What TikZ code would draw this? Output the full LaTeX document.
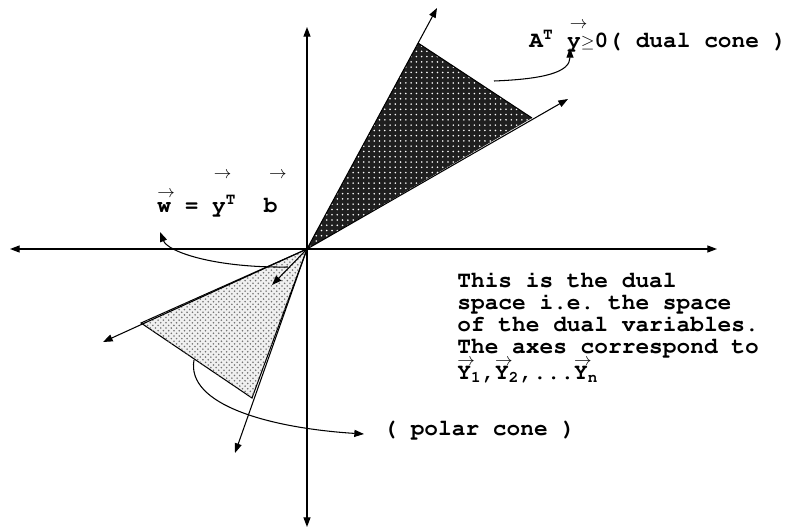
\documentclass[tikz,border=0pt]{standalone}
\usepackage[T1]{fontenc}
\usetikzlibrary{arrows.meta}
\usetikzlibrary{patterns}

\newcommand{\varrow}[3]{\leavevmode\rlap{\hspace{#2}\raisebox{#1}[0pt][0pt]{\fontsize{10}{10}\selectfont$\rightarrow$}}#3}
\newcommand{\geqmono}{\makebox[7.8pt]{\fontsize{10}{10}\selectfont$\geq$}}

\begin{document}
\begin{tikzpicture}[x=0.02cm,y=-0.02cm,
  axis/.style={line width=0.7pt,-{Triangle[length=5.5pt,width=4pt]}},
  pointer/.style={line width=0.6pt,-{Triangle[length=5.5pt,width=4pt]}},
  note/.style={inner sep=0pt,anchor=base west,font=\fontfamily{pcr}\bfseries\fontsize{13}{12.6}\selectfont\frenchspacing}]
  \useasboundingbox (0,0) rectangle (785,531);
  \coordinate (o) at (307,249);
  \coordinate (dualtip) at (570,48);
  \coordinate (polartip) at (364,434);
  \coordinate (wtip) at (160,232);

  \fill[black!88] (o) -- (418,43) -- (532,118) -- cycle;
  \fill[pattern=dots,pattern color=white] (o) -- (418,43) -- (532,118) -- cycle;
  \draw[line width=0.6pt] (418,43) -- (532,118);
  \draw[line width=0.6pt,fill=black!6,postaction={pattern=crosshatch dots,pattern color=black!55}] (o) -- (141,323) -- (252,398) -- cycle;

  \draw[pointer] (o) -- (437,8);
  \draw[pointer] (o) -- (568,99);
  \draw[pointer] (o) -- (103,342);
  \draw[pointer] (o) -- (235,453);
  \draw[pointer] (o) -- (272,285);

  \draw[axis] (307,249) -- (10,249);
  \draw[axis] (307,249) -- (717,249);
  \draw[axis] (307,249) -- (307,27);
  \draw[axis] (307,249) -- (307,527);

  \node[note] (dual) at (529,47) {A\textsuperscript{T} \varrow{10.5pt}{1.5pt}{y}\geqmono0( dual cone )};
  \node[note] (wlabel) at (157,212) {\varrow{8.5pt}{0pt}{w} = \varrow{19pt}{1pt}{y}\textsuperscript{T}~~\varrow{19pt}{3pt}{b}};
  \node[note] (polar) at (383,435) {( polar cone )};
  \node[note,anchor=north west,align=left] (space) at (457,272) {This is the dual\\space i.e. the space\\of the dual variables.\\The axes correspond to\\[2pt]\varrow{8pt}{0pt}{Y}\textsubscript{1},\varrow{8pt}{0pt}{Y}\textsubscript{2},...\varrow{8pt}{0pt}{Y}\textsubscript{n}};

  \draw[pointer] (494,81) .. controls (545,79) and (570,72) .. (dualtip);
  \draw[pointer] (194,360) .. controls (186,405) and (270,428) .. (polartip);
  \draw[pointer] (288,267) .. controls (215,268) and (168,252) .. (wtip);
\end{tikzpicture}
\end{document}
